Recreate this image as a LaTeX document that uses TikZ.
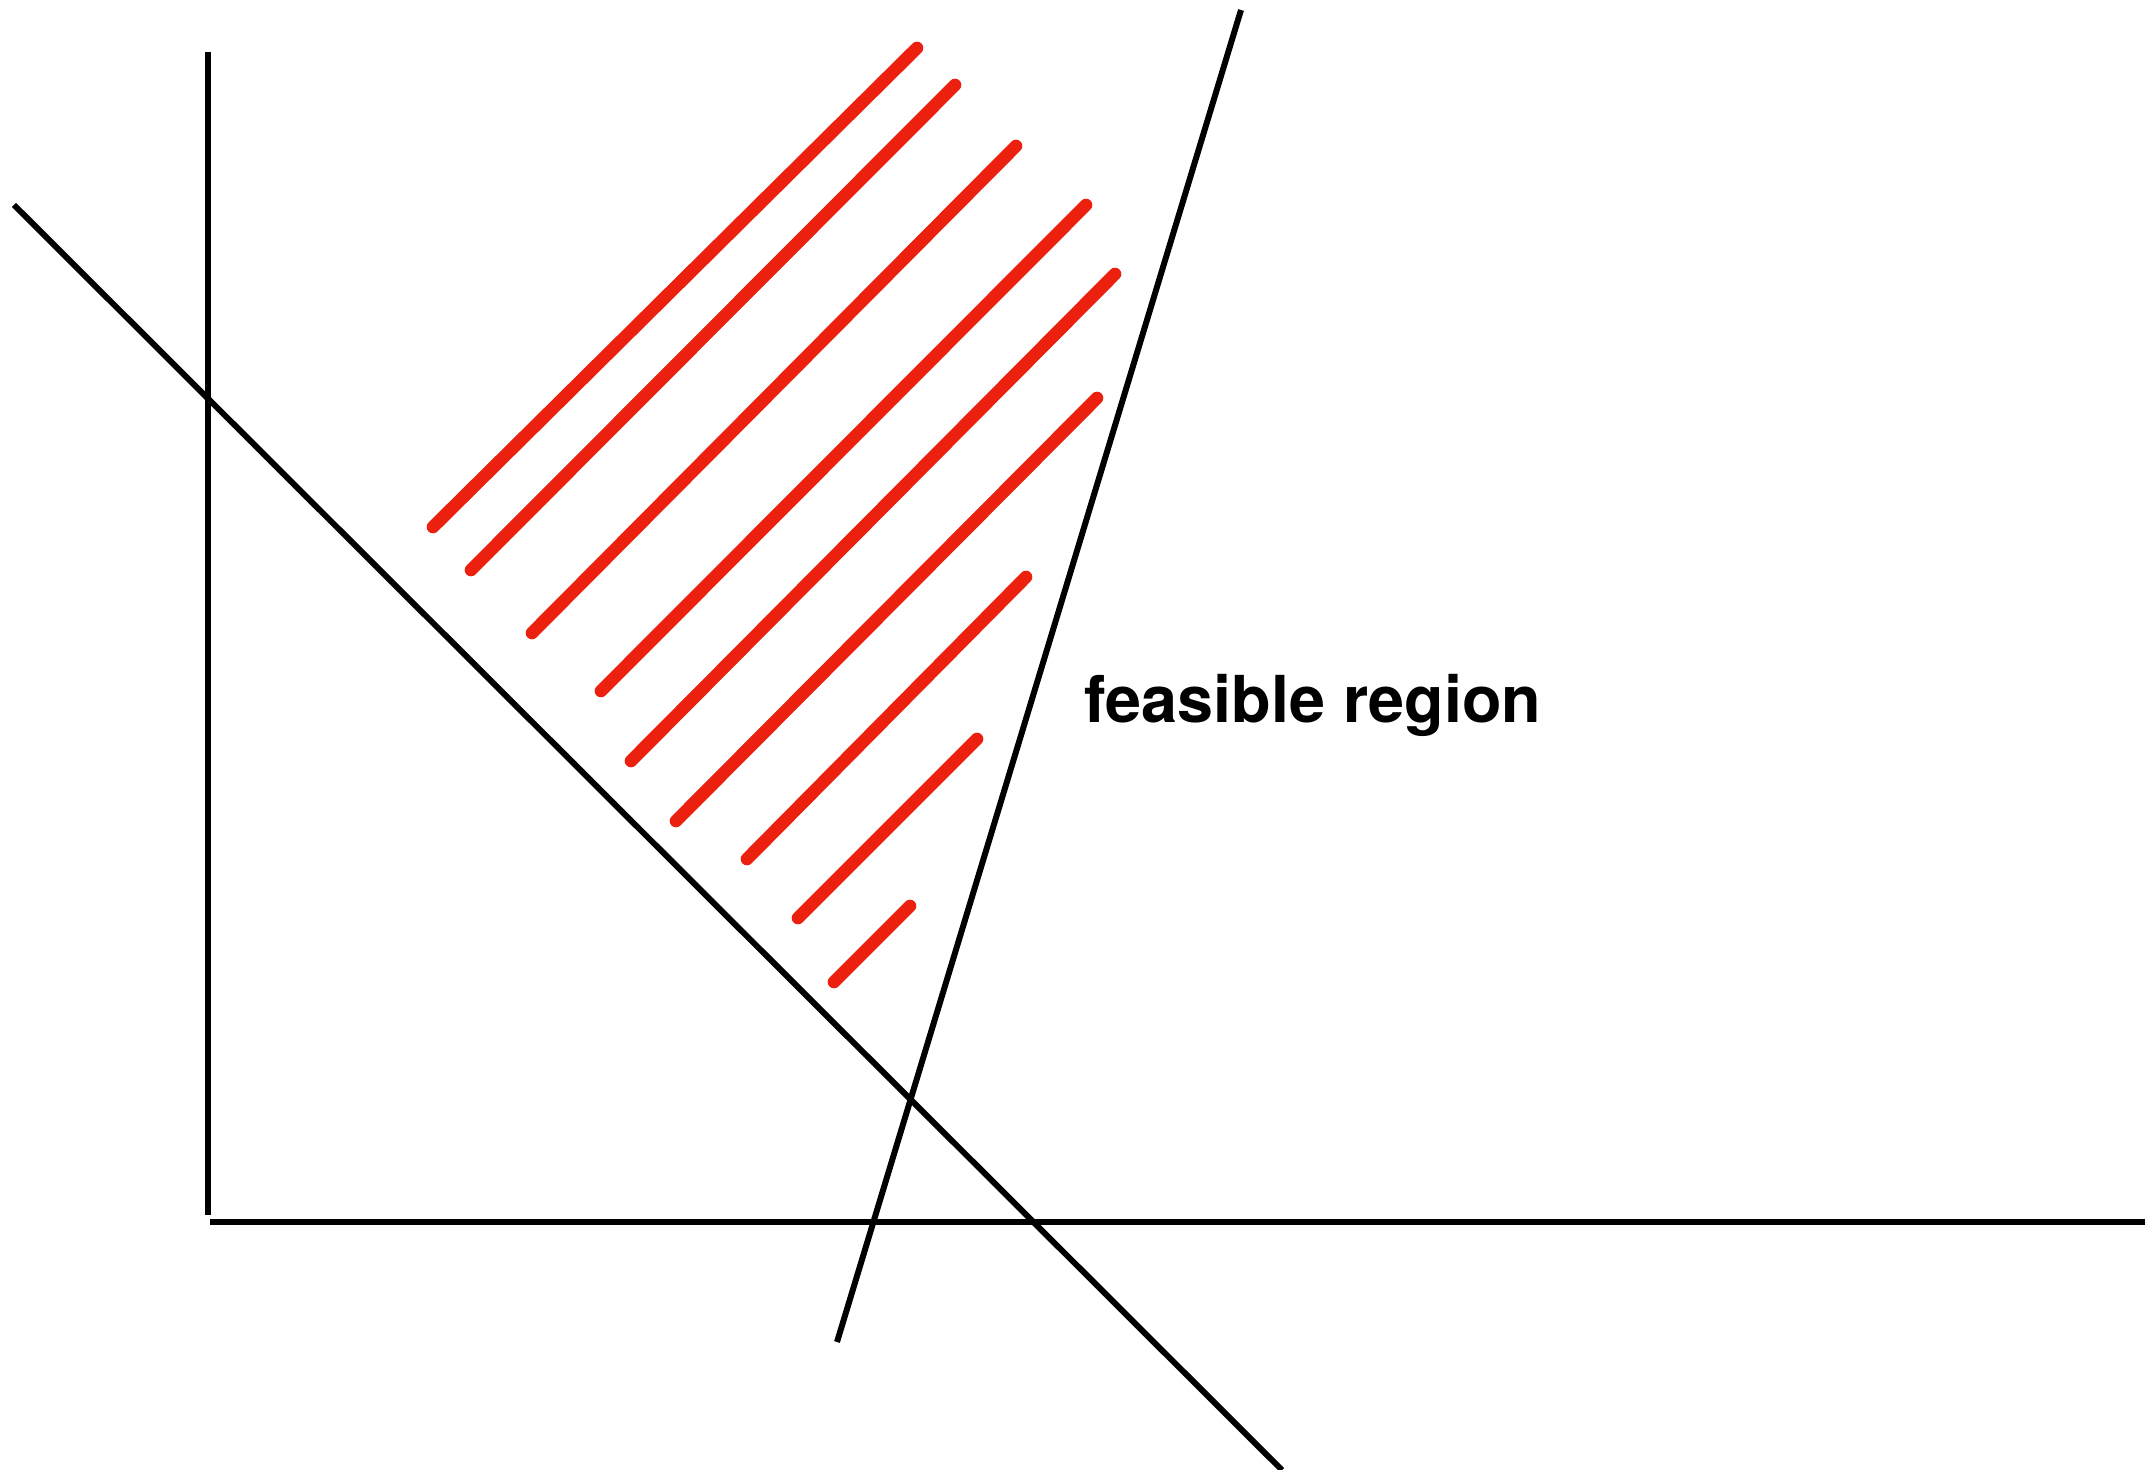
\documentclass[tikz,border=0pt]{standalone}
\usepackage{fontspec}
\setsansfont{TeX Gyre Heros}
\definecolor{crayonred}{RGB}{236,32,14}
\begin{document}
\begin{tikzpicture}[
  x=0.01cm,y=-0.01cm,
  line/.style={draw=black,line width=1.7pt},
  crayon/.style={draw=crayonred,line width=3.6pt,line cap=round},
  label/.style={font=\sffamily\bfseries\fontsize{18.4}{22}\selectfont,text=black,inner sep=0pt},
]
\useasboundingbox (0,0) rectangle (2145,1470);
% axes
\draw[line] (208,52) -- (208,1215);
\draw[line] (210,1222) -- (2145,1222);
% constraint lines
\draw[line] (14,205) -- (1282,1470);
\draw[line] (1241,10) -- (837,1342);
% crayon hatching
\foreach \xa/\ya/\xb/\yb in {433/527/917/48,471/570/955/85,532/633/1016/146,
  601/691/1086/205,631/761/1115/274,676/821/1097/398,747/859/1026/577,
  798/918/977/739,834/982/910/906}{
  \draw[crayon] (\xa,\ya) -- (\xb,\yb);
}
\node[label,anchor=base] (feas) at (1313,722) {feasible region};
\end{tikzpicture}
\end{document}
